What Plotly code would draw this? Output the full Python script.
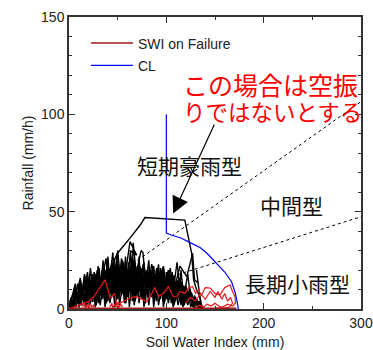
import plotly.graph_objects as go

# ---------------- data ----------------
# Critical line (CL)
cl_swi = [100, 100, 105, 115, 123, 135, 142, 150, 160, 167, 171, 173, 174]
cl_rain = [100, 39, 38, 36.5, 34.5, 31.5, 28.5, 24.5, 19, 14, 8, 3, 0]

# Boundary (dotted) lines: SWI and rainfall end points
div_swi = [0, 300]
div_upper_rain = [0, 106.5]
div_lower_rain = [0, 47.4]

# Non-failure snake lines (black), separate events split by None
black_swi_a = [0, 3, 5, 8, 10, 13, 15, 18, 20, 23, 25, 28, 30, 33, 35, 38, 40, 43, 45, 48, 50, 53, 55, 58, 60, 63, 65, 68, 70, 73, 75, 78, 80, 83, 85, 88, 90, 93, 95, 98, 100, 103, 105, 108, 110, 113, 115, 118, 120, 123, 125, 128, 130, 133, 135, None,
               0, 2, 4, 7, 9, 12, 14, 16, 19, 21, 24, 26, 29, 31, 34, 36, 39, 41, 44, 46, 49, 51, 54, 56, 59, 61, 64, 66, 69, 71, 74, 76, 79, 81, 84, 86, 89, 91, 94, 96, 99, 101, 104, 106, 109, 111, 114, 116, 119, 121, 124, 126, 129, 131, 134, 137]
black_rain_a = [0, 4, 1, 9, 2, 12, 3, 15, 4, 16, 5, 18, 3, 17, 6, 20, 4, 21, 7, 22, 5, 21, 8, 23, 6, 22, 4, 21, 7, 22, 5, 20, 8, 21, 6, 20, 4, 19, 7, 18, 5, 17, 3, 15, 6, 12, 2, 10, 4, 8, 1, 6, 2, 4, 0, None,
                0, 6, 2, 11, 3, 14, 5, 17, 6, 13, 4, 19, 8, 16, 5, 22, 9, 18, 6, 26, 10, 20, 7, 24, 11, 19, 8, 25, 12, 20, 6, 23, 10, 19, 7, 22, 9, 18, 5, 20, 8, 17, 6, 19, 4, 13, 7, 14, 3, 9, 5, 7, 2, 5, 1, 0]

black_swi_b = [0, 4, 6, 9, 11, 14, 17, 19, 22, 24, 27, 29, 32, 34, 37, 39, 42, 44, 47, 49, 52, 54, 57, 59, 62, 64, 67, 69, 72, 74, 77, 79, 82, 84, 87, 89, 92, 94, 97, 99, 102, 104, 107, 109, 112, 114, 117, 119, 122, 124, 127, 129, 132, 134, 136, None,
               0, 1, 3, 6, 8, 11, 13, 16, 18, 21, 23, 26, 28, 31, 33, 36, 38, 41, 43, 46, 48, 51, 53, 56, 58, 61, 63, 65, 68, 70, 73, 75, 78, 80, 83, 85, 88, 90, 93, 95, 98, 100, 103, 105, 108, 110, 113, 115, 118, 120, 123, 125, 128, 130, 133, 135, 138]
black_rain_b = [0, 8, 3, 13, 5, 10, 2, 16, 7, 18, 3, 15, 9, 20, 4, 17, 11, 24, 5, 19, 12, 22, 6, 20, 13, 23, 5, 18, 10, 21, 4, 17, 11, 20, 5, 16, 10, 21, 4, 15, 9, 18, 5, 12, 8, 16, 4, 10, 6, 11, 3, 7, 2, 4, 0, None,
                0, 3, 1, 10, 4, 15, 6, 12, 3, 17, 9, 14, 2, 19, 7, 16, 3, 21, 8, 17, 4, 23, 9, 18, 3, 21, 10, 17, 4, 22, 9, 16, 3, 20, 10, 18, 4, 21, 8, 17, 3, 19, 10, 16, 2, 14, 9, 11, 2, 12, 6, 9, 3, 6, 1, 3, 0]

black_swi_c = [0, 2, 5, 7, 10, 12, 15, 17, 20, 22, 25, 27, 30, 32, 35, 37, 40, 42, 45, 47, 50, 52, 55, 57, 60, 62, 65, 67, 70, 72, 75, 77, 80, 82, 85, 87, 90, 92, 95, 97, 100, 102, 105, 107, 110, 112, 115, 117, 120, 122, 125, 127, 130, 132, 135, 140, None,
               10, 16, 19, 22, 25, 28, 31, None,
               30, 38, 41, 45, 47, 50, 53, 55, 58, None,
               55, 62.7, 69.5, 63, 65, 66, 69, 74, 76, 79, None,
               80, 85, 90, 97, 100, 104, 107, 111, 114, 115, 118, 122, 125, None,
               108, 114, 121, 127, 129, 132.6, 131, 134.6, 136]
black_rain_c = [0, 2, 5, 1, 7, 2, 8, 1, 9, 3, 11, 1, 10, 2, 12, 1, 13, 3, 12, 1, 14, 2, 13, 3, 15, 1, 14, 2, 13, 3, 15, 1, 12, 2, 14, 1, 13, 2, 12, 1, 11, 3, 10, 1, 9, 2, 8, 1, 7, 2, 6, 1, 4, 1, 2, 0, None,
                0, 17, 5, 21, 8, 18, 6, None,
                5, 26, 12, 29, 15, 30, 14, 25, 10, None,
                8, 34.6, 27.7, 30, 20, 34, 18, 30, 29, 12, None,
                8, 23, 12, 22, 10, 21, 9, 24, 10, 20, 6, 18, 5, None,
                10, 22, 16.6, 28.6, 15, 13.3, 20, 6.3, 0]

black_swi_d = [0, 1.5, 3.5, 6, 8.5, 11, 13.5, 16, 18.5, 21, 23.5, 26, 28.5, 31, 33.5, 36, 38.5, 41, 43.5, 46, 48.5, 51, 53.5, 56, 58.5, 61, 63.5, 66, 68.5, 71, 73.5, 76, 78.5, 81, 83.5, 86, 88.5, 91, 93.5, 96, 98.5, 101, 103.5, 106, 108.5, 111, 113.5, 116, 118.5, 121, 123.5, 126, 128.5, 131, 134, None,
               0, 6.5, 9, 11.5, 14, 16.5, 19, 21.5, 24, 26.5, 29, 31.5, 34, 36.5, 39, 41.5, 44, 46.5, 49, 51.5, 54, 56.5, 59, 61.5, 64, 66.5, 69, 71.5, 74, 76.5, 79, 81.5, 84, 86.5, 89, 91.5, 94, 96.5, 99, 101.5, 104, 106.5, 109, 111.5, 114, 116.5, 119, 121.5, 124, 127, 130]
black_rain_d = [0, 5, 2, 12, 4, 14, 6, 18, 2, 15, 7, 19, 4, 21, 8, 16, 3, 20, 9, 23, 4, 19, 10, 22, 3, 24, 9, 20, 5, 22, 10, 18, 3, 20, 11, 19, 6, 21, 9, 17, 4, 19, 10, 15, 3, 13, 8, 12, 2, 10, 6, 8, 2, 5, 0, None,
                0, 13, 3, 16, 8, 12, 19, 6, 17, 11, 20, 5, 18, 12, 22, 7, 20, 12, 24, 6, 20, 13, 21, 7, 22, 13, 19, 8, 21, 12, 18, 6, 20, 13, 18, 7, 19, 11, 16, 5, 15, 10, 13, 4, 12, 8, 9, 3, 6, 2, 0]

# spiky upper events of the cloud
black_swi_e = [20, 24, 26, 30, 32, 35, 37, 40, 42, 44, 47, 49, 51, 54, 56, 58, 60, 63, 65, 67, 70, 72, 74, 77, 79, 82, 84, 87, 89, 92, 94, 97, 99, 102, 105, 108, 110, 112, 115, 118, 122, 126, 130]
black_rain_e = [0, 14, 4, 22, 8, 25, 10, 27, 12, 24, 9, 28, 13, 26, 8, 27, 14, 29, 10, 26, 12, 27, 9, 24, 13, 25, 8, 22, 12, 23, 7, 21, 11, 20, 6, 17, 9, 15, 5, 12, 3, 8, 0]

# Largest non-failure event
big_swi = [0, 10, 20, 30, 40, 50, 62, 73, 78, 95, 119, 126, 128, 131, 134.6, 137]
big_rain = [0, 4, 8, 12, 18, 28.8, 36, 43, 47, 46.6, 45.7, 28.6, 15, 10, 6, 0]

# Failure events (red)
red_swi = [0, 3, 6, 10, 15, 20, 25, 30, 37, 40, 42, 45, 47, 49, 52, 56, 60, 65, 69.5, 75, 80, 85, 88, 92, 97, 102, 107, 110.7, 114, 119, 123, 127, 130, 133, 136, 140, 145, 150, 155, 160, 165.5, 168, 170.6, 171, 168, 163, 158, 155, 150, 146, 142, 138, 134, 130, None,
           14, 16, 17, 19, 20, 22, 23, 25, 26, None,
           42, 44, 45, 47, 48, 50, 51, 53, 55, None,
           120, 125, 130, 135, 140, 145, 150, 153, 157, 160, 163, 166, 168, 165, 160, 150]
red_rain = [0, 0.5, 1.2, 2, 3, 3.8, 6, 10, 15, 10, 6, 7, 8, 2, 3, 4, 5, 6, 6.3, 5, 3.8, 8, 11, 6.5, 8, 11.5, 6.3, 6.3, 9, 8, 11, 11.5, 8, 10, 7, 11, 10.8, 8, 7.2, 11, 12.3, 9, 6.3, 3, 1.5, 2.5, 1, 1.2, 3, 1.5, 2.5, 1, 2, 0.8, None,
            1, 3, 0.5, 2.5, 0.5, 3, 1, 2, 0.5, None,
            1, 3, 0.5, 2.5, 1, 3.5, 0.5, 2.5, 1, None,
            3, 6, 4, 8, 5, 9, 6, 9, 5, 8, 4, 6, 3, 1, 0.5, 0.5]

# SWI decay after failure (rainfall zero)
fail_swi = [0, 172]
fail_rain = [0.4, 0.4]

# ---------------- figure ----------------
fig = go.Figure()

for yy in (div_upper_rain, div_lower_rain):
    fig.add_trace(go.Scatter(x=div_swi, y=yy, mode="lines",
                             line=dict(color="black", width=1, dash="dot"),
                             showlegend=False, hoverinfo="skip"))

for xs, ys in ((black_swi_a, black_rain_a), (black_swi_b, black_rain_b),
               (black_swi_c, black_rain_c), (black_swi_d, black_rain_d),
               (black_swi_e, black_rain_e), (big_swi, big_rain)):
    fig.add_trace(go.Scatter(x=xs, y=ys, mode="lines",
                             line=dict(color="black", width=1.4),
                             showlegend=False, hoverinfo="skip"))

fig.add_trace(go.Scatter(x=red_swi, y=red_rain, mode="lines",
                         line=dict(color="#e8191c", width=1.2),
                         showlegend=False, hoverinfo="skip"))
fig.add_trace(go.Scatter(x=fail_swi, y=fail_rain, mode="lines",
                         line=dict(color="#a01818", width=1.5),
                         name="SWI on Failure", legendgroup="g1"))
fig.add_trace(go.Scatter(x=cl_swi, y=cl_rain, mode="lines",
                         line=dict(color="#0000ff", width=1.2),
                         name="CL", legendgroup="g2"))

txt_font = dict(family="Noto Sans CJK JP", size=21, color="#111111")
fig.add_annotation(x=124.3, y=74, text="短期豪雨型", showarrow=False, font=txt_font)
fig.add_annotation(x=229, y=53.4, text="中間型", showarrow=False, font=txt_font)
fig.add_annotation(x=234.8, y=13.4, text="長期小雨型", showarrow=False, font=txt_font)

fig.add_annotation(x=115, y=115.5, text="この場合は空振", showarrow=False,
                   xanchor="left",
                   font=dict(family="Noto Sans CJK JP", size=25, color="#ff0000"))
fig.add_annotation(x=115, y=101.5, text="りではないとする", showarrow=False,
                   xanchor="left",
                   font=dict(family="Noto Sans CJK JP", size=22.5, color="#ff0000"))

fig.add_annotation(x=107, y=49, ax=150, ay=95.5, axref="x", ayref="y",
                   text="", showarrow=True, arrowhead=2, arrowsize=2.8,
                   arrowwidth=1.2, arrowcolor="black")

axis_common = dict(showline=True, linecolor="#333333", linewidth=1.5,
                   mirror="ticks", ticks="inside", ticklen=6,
                   tickcolor="#333333", showgrid=False, zeroline=False,
                   automargin=False,
                   tickfont=dict(family="Liberation Sans, Arial", size=14, color="#222222"),
                   title_font=dict(family="Liberation Sans, Arial", size=14, color="#222222"))

fig.update_xaxes(range=[0, 300], tickvals=[0, 100, 200, 300],
                 minor=dict(ticks="inside", ticklen=3, dtick=50, tickcolor="#333333"),
                 title_text="Soil Water Index (mm)", title_standoff=9, **axis_common)
fig.update_yaxes(range=[0, 150], tickvals=[0, 50, 100, 150],
                 minor=dict(ticks="inside", ticklen=3, dtick=10, tickcolor="#333333"),
                 title_text="Rainfall (mm/h)", title_standoff=4, **axis_common)

fig.update_layout(
    width=373, height=350,
    margin=dict(l=69, r=12, t=17, b=41),
    paper_bgcolor="white", plot_bgcolor="white",
    font=dict(family="Liberation Sans, Arial", size=14, color="#222222"),
    legend=dict(x=0.058, y=0.964, xanchor="left", yanchor="top",
                bgcolor="rgba(0,0,0,0)", itemwidth=42, tracegroupgap=1,
                font=dict(family="Liberation Sans, Arial", size=14, color="#222222")),
)

# remove the default 8px page margin so the figure fills the window exactly
fig.write_html("out.html", config={"displayModeBar": False},
               post_script="document.body.style.margin='0';document.body.style.overflow='hidden';")
